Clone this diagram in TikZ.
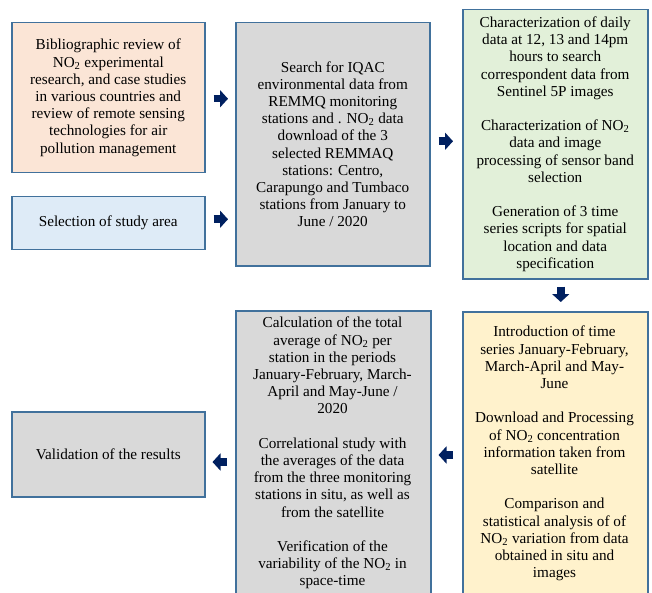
\documentclass[tikz,border=0pt]{standalone}
\usepackage{fontspec}
\setmainfont{Liberation Serif}
\usetikzlibrary{arrows.meta,calc}
\definecolor{bordc}{RGB}{65,113,156}
\definecolor{peach}{RGB}{251,229,214}
\definecolor{lblue}{RGB}{222,235,247}
\definecolor{lgray}{RGB}{217,217,217}
\definecolor{lgreen}{RGB}{226,240,217}
\definecolor{lyellow}{RGB}{255,242,204}
\definecolor{navyc}{RGB}{0,32,96}
\begin{document}
\begin{tikzpicture}[x=1pt,y=-1pt,
  box/.style={draw=bordc, line width=1.5pt, anchor=north west, align=center, inner sep=0pt,
              font=\fontsize{15.2}{17.2}\selectfont},
  txt/.style={align=center, inner sep=0pt, anchor=north, font=\fontsize{15.2}{17.2}\selectfont},
  blk/.style={draw=navyc, line width=7.5pt, -{Triangle[length=8pt,width=17pt]}}
]
\clip (0,0) rectangle (652,593);
\fill[white] (0,0) rectangle (652,593);

\node[box, fill=peach, minimum width=193pt, minimum height=150pt] (b1) at (11,22)
  {Bibliographic review of\\ NO\textsubscript{2} experimental\\ research, and case studies\\
   in various countries and\\ review of remote sensing\\ technologies for air\\ pollution management};
\node[box, fill=lblue, minimum width=193pt, minimum height=53pt] (b2) at (11,196)
  {Selection of study area};
\node[box, fill=lgray, minimum width=194pt, minimum height=243pt] (b3) at (235,22)
  {Search for IQAC\\ environmental data from\\ REMMQ monitoring\\ stations and . NO\textsubscript{2} data\\
   download of the 3\\ selected REMMAQ\\ stations: Centro,\\ Carapungo and Tumbaco\\
   stations from January to\\ June / 2020};
\node[box, fill=lgreen, minimum width=185pt, minimum height=269pt] (b4) at (462,9)
  {Characterization of daily\\ data at 12, 13 and 14pm\\ hours to search\\ correspondent data from\\
   Sentinel 5P images\\[17.2pt]
   Characterization of NO\textsubscript{2}\\ data and image\\ processing of sensor band\\ selection\\[17.2pt]
   Generation of 3 time\\ series scripts for spatial\\ location and data\\ specification};
\node[box, fill=lyellow, minimum width=185pt, minimum height=300pt] (b5) at (462,311) {};
\node[txt] (t5) at (554.5,326)
  {Introduction of time\\ series January-February,\\ March-April and May-\\ June\\[17.2pt]
   Download and Processing\\ of NO\textsubscript{2} concentration\\ information taken from\\ satellite\\[17.2pt]
   Comparison and\\ statistical analysis of of\\ NO\textsubscript{2} variation from data\\ obtained in situ and\\ images};
\node[box, fill=lgray, minimum width=195pt, minimum height=300pt] (b6) at (235,310) {};
\node[txt] (t6) at (332.5,317)
  {Calculation of the total\\ average of NO\textsubscript{2} per\\ station in the periods\\
   January-February, March-\\ April and May-June /\\ 2020\\[17.2pt]
   Correlational study with\\ the averages of the data\\ from the three monitoring\\
   stations in situ, as well as\\ from the satellite\\[17.2pt]
   Verification of the\\ variability of the NO\textsubscript{2} in\\ space-time};
\node[box, fill=lgray, minimum width=193pt, minimum height=85pt] (b7) at (11,411)
  {Validation of the results};

\coordinate (a1) at ($(b1.east)+(0,1)$);
\draw[blk, shorten <=8pt, shorten >=7pt] (a1) -- (a1 -| b3.west);
\coordinate (a2) at ($(b2.east)+(0,-4)$);
\draw[blk, shorten <=8pt, shorten >=7pt] (a2) -- (a2 -| b3.west);
\coordinate (a3) at ($(b3.east)+(0,-3)$);
\draw[blk, shorten <=8pt, shorten >=9pt] (a3) -- (a3 -| b4.west);
\coordinate (a4) at ($(b4.south)+(5.5,0)$);
\draw[blk, shorten <=7pt, shorten >=9pt] (a4) -- (a4 |- b5.north);
\coordinate (y455) at (0,455);
\draw[blk, shorten <=9pt, shorten >=7pt] (b5.west |- y455) -- (b6.east |- y455);
\coordinate (y462) at (0,462);
\draw[blk, shorten <=8pt, shorten >=7pt] (b6.west |- y462) -- (b7.east |- y462);
\end{tikzpicture}
\end{document}
